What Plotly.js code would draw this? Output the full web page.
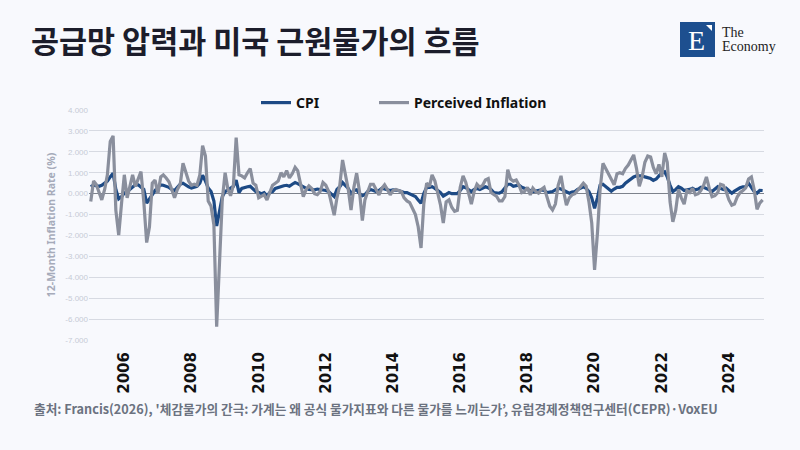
<!DOCTYPE html>
<html>
<head>
<meta charset="utf-8">
<script src="https://cdn.plot.ly/plotly-3.0.1.min.js"></script>
<style>
html,body{margin:0;padding:0;background:#f8f9fd;}
#chart{width:800px;height:450px;}
</style>
</head>
<body>
<div id="chart"></div>
<script>
// ---- data (monthly, starting Jan 2005) ----
const startYear = 2005;
const seriesNames = ['CPI', 'Perceived Inflation'];
const cpi = [
  0.33, 0.4, 0.38, 0.35, 0.4, 0.5, 0.6, 0.8, 0.98, 0.2, -0.25, -0.15,
  0.03, 0.1, 0.2, 0.35, 0.42, 0.42, 0.3, 0.2, -0.45, -0.25, 0.0, 0.15,
  0.3, 0.42, 0.4, 0.35, 0.3, 0.2, 0.15, 0.3, 0.45, 0.5, 0.4, 0.33,
  0.27, 0.3, 0.35, 0.5, 0.88, 0.6, 0.27, 0.1, -0.35, -1.55, -0.9, -0.15,
  0.1, 0.2, 0.27, 0.35, 0.65, 0.05, 0.25, 0.3, 0.33, 0.35, 0.2, 0.1,
  0.05, 0.0, 0.05, -0.1, 0.05, 0.1, 0.25, 0.3, 0.33, 0.38, 0.4, 0.35,
  0.45, 0.53, 0.48, 0.4, 0.3, 0.25, 0.2, 0.2, 0.18, 0.22, 0.2, 0.15,
  0.15, 0.1, 0.0, -0.14, 0.2, 0.33, 0.53, 0.4, 0.25, 0.0, 0.15, 0.18,
  0.0, -0.1, -0.05, 0.1, 0.2, 0.15, 0.1, 0.15, 0.26, 0.22, 0.18, 0.15,
  0.18, 0.18, 0.15, 0.1, 0.05, 0.05, 0.0, -0.05, -0.14, -0.3, -0.46, 0.0,
  0.3, 0.3, 0.33, 0.25, 0.15, 0.05, -0.12, -0.05, 0.05, 0.0, -0.02, 0.0,
  0.15, 0.33, 0.28, 0.2, 0.1, 0.2, 0.25, 0.2, 0.25, 0.33, 0.28, 0.2,
  0.05, 0.03, 0.02, 0.1, 0.26, 0.45, 0.45, 0.35, 0.38, 0.4, 0.3, 0.26,
  0.2, 0.15, 0.1, 0.12, 0.15, 0.18, 0.15, 0.05, 0.08, 0.1, 0.18, 0.26,
  0.22, 0.15, 0.05, 0.02, 0.08, 0.1, 0.2, 0.26, 0.33, 0.25, 0.1, -0.2,
  -0.7, -0.2, 0.4, 0.45, 0.35, 0.26, 0.12, 0.22, 0.3, 0.3, 0.35, 0.5,
  0.62, 0.72, 0.8, 0.85, 0.85, 0.85, 0.8, 0.75, 0.72, 0.63, 0.7, 0.85,
  1.0, 1.05, 0.8, 0.4, 0.1, 0.2, 0.33, 0.26, 0.15, 0.18, 0.2, 0.26,
  0.18, 0.22, 0.3, 0.3, 0.26, 0.18, 0.1, 0.22, 0.33, 0.25, 0.2, 0.26,
  0.12, 0.02, 0.12, 0.22, 0.28, 0.33, 0.33, 0.5, 0.3, 0.1, 0.02, 0.16,
  0.15
];
const perceived = [
  -0.38, 0.6, 0.45, 0.1, -0.3, 0.2, 0.9, 2.5, 2.76, -0.8, -1.98, -0.5,
  0.9, -0.2, 0.4, 0.9, 0.35, 0.7, 1.05, -0.4, -2.34, -1.6, 0.5, 0.65,
  0.0, 0.8, 0.9, 0.75, 0.57, 0.2, -0.2, 0.2, 0.45, 1.45, 1.0, 0.6,
  0.4, 0.45, 0.4, 0.9, 2.3, 1.8, -0.35, -0.6, -1.5, -6.36, -3.3, -0.3,
  1.0, 0.2, -0.1, 0.4, 2.68, 0.9, 0.85, 0.75, 1.0, 1.2, 0.5, 0.4,
  -0.2, -0.1, -0.05, -0.3, 0.1, 0.4, 0.5, 0.6, 1.0, 0.8, 1.1, 0.75,
  0.95, 1.26, 1.1, 0.5, -0.14, 0.2, 0.37, 0.25, 0.0, -0.05, 0.1, 0.53,
  0.4, 0.1, -0.5, -1.03, -0.2, 0.4, 1.61, 0.9, 0.2, -0.78, 0.3, 0.98,
  0.1, -1.29, -0.3, 0.1, 0.45, 0.45, 0.2, -0.06, 0.25, 0.42, 0.2, -0.06,
  0.15, 0.2, 0.15, 0.1, -0.2, -0.35, -0.43, -0.7, -1.0, -1.58, -2.6, -0.5,
  0.5, 0.35, 0.9, 0.6, 0.1, -0.55, -1.4, -0.4, -0.3, -0.65, -0.85, -0.8,
  0.3, 0.85, 0.55, 0.0, -0.5, 0.1, 0.45, 0.3, 0.4, 0.65, 0.72, 0.05,
  -0.05, -0.14, -0.35, -0.35, -0.14, 1.15, 0.7, 0.6, 0.65, 0.4, 0.05, 0.1,
  0.3, -0.06, 0.26, 0.1, 0.02, 0.2, 0.3, -0.1, -0.6, -0.78, -0.5, 0.4,
  0.85, 0.05, -0.55, -0.2, -0.06, 0.0, 0.15, 0.3, 0.5, 0.35, -0.4, -1.4,
  -3.65, -1.9, 0.2, 1.45, 1.2, 0.9, 0.7, 0.42, 0.95, 1.0, 0.95, 1.2,
  1.37, 1.65, 1.85, 1.2, 0.35, 0.8, 1.5, 1.8, 1.75, 1.25, 0.95, 1.4,
  0.8, 1.95, 1.5, -0.4, -1.35, -0.8, 0.2, -0.2, -0.5, 0.15, 0.05, 0.25,
  -0.05, 0.0, 0.15, 0.4, 0.8, 0.25, -0.15, -0.1, 0.05, 0.45, 0.4, 0.1,
  -0.3, -0.55, -0.5, -0.15, 0.05, 0.15, 0.28, 0.7, 0.8, 0.2, -0.75, -0.45,
  -0.3
];
const yTickVals = [4, 3, 2, 1, 0, -1, -2, -3, -4, -5, -6, -7];
const yTickText = yTickVals.map(v => v.toFixed(3));

const titleText = '공급망 압력과 미국 근원물가의 흐름';
const yTitleText = '12-Month Inflation Rate (%)';
const sourceText = "출처: Francis(2026), '체감물가의 간극: 가계는 왜 공식 물가지표와 다른 물가를 느끼는가’, 유럽경제정책연구센터(CEPR)·VoxEU";

// month dates
const dates = cpi.map((_, k) => {
  const y = startYear + Math.floor(k / 12);
  const m = (k % 12) + 1;
  return y + '-' + String(m).padStart(2, '0') + '-01';
});

// layout geometry helpers (pixel -> paper)
const L = 89, R = 36, T = 110, B = 110, W = 800, H = 450;
const pw = W - L - R, ph = H - T - B;
const px = x => (x - L) / pw;
const py = y => (H - B - y) / ph;

const traces = [
  {
    x: dates, y: cpi, name: seriesNames[0], type: 'scatter', mode: 'lines',
    line: {color: '#1d4a85', width: 3.2}, legend: 'legend'
  },
  {
    x: dates, y: perceived, name: seriesNames[1], type: 'scatter', mode: 'lines',
    line: {color: '#8a8f9d', width: 3.2}, legend: 'legend2'
  }
];

const legendStyle = {
  orientation: 'h',
  xanchor: 'left',
  y: py(103), yanchor: 'middle',
  font: {family: 'Noto Sans', size: 14, weight: 'bold', color: '#111111'},
  bgcolor: 'rgba(0,0,0,0)',
  itemwidth: 30
};

const layout = {
  width: W, height: H,
  margin: {l: L, r: R, t: T, b: B},
  paper_bgcolor: '#f8f9fd',
  plot_bgcolor: '#f8f9fd',
  font: {family: 'Noto Sans, Noto Sans CJK KR, sans-serif'},
  title: {
    text: titleText,
    font: {family: 'Noto Sans CJK KR', size: 30.5, weight: 'bold', color: '#1c1d2b'},
    xref: 'container', yref: 'container',
    x: 31 / W, xanchor: 'left',
    y: 1 - 42 / H, yanchor: 'middle'
  },
  showlegend: true,
  legend: Object.assign({}, legendStyle, {x: px(256)}),
  legend2: Object.assign({}, legendStyle, {x: px(374)}),
  xaxis: {
    type: 'date',
    range: ['2004-12-13', '2025-01-16'],
    tick0: '2006-01-01', dtick: 'M24', tickformat: '%Y',
    tickangle: -90,
    tickfont: {family: 'DejaVu Sans', size: 15, weight: 'bold', color: '#111111'},
    showgrid: false, zeroline: false, showline: false, ticks: '',
    ticklabelstandoff: 8
  },
  yaxis: {
    range: [-7, 4],
    tickvals: yTickVals, ticktext: yTickText,
    tickfont: {family: 'Liberation Sans', size: 8, color: '#c6cbd6'},
    gridcolor: '#d7dae2', gridwidth: 1,
    zeroline: true, zerolinecolor: '#7d828c', zerolinewidth: 1.2,
    showline: false, ticks: '',
    title: {
      text: yTitleText,
      font: {family: 'Noto Sans', size: 10.5, weight: 'bold', color: '#a6abba'},
      standoff: 7
    }
  },
  shapes: [
    {type: 'rect', xref: 'paper', yref: 'paper',
     x0: px(680), x1: px(715), y0: py(57), y1: py(22),
     fillcolor: '#1d4f8f', line: {width: 0}},
    {type: 'path', xref: 'paper', yref: 'paper',
     path: 'M' + px(706) + ',' + py(25) + ' L' + px(712) + ',' + py(25) + ' L' + px(712) + ',' + py(31) + ' Z',
     fillcolor: '#ffffff', line: {width: 0}}
  ],
  annotations: [
    {text: 'E', xref: 'paper', yref: 'paper', x: px(696), y: py(41),
     xanchor: 'center', yanchor: 'middle', showarrow: false,
     font: {family: 'Liberation Serif', size: 28, color: '#ffffff'}},
    {text: 'The', xref: 'paper', yref: 'paper', x: px(720), y: py(33),
     xanchor: 'left', yanchor: 'middle', showarrow: false,
     font: {family: 'Liberation Serif', size: 14, color: '#222222'}},
    {text: 'Economy', xref: 'paper', yref: 'paper', x: px(720), y: py(46),
     xanchor: 'left', yanchor: 'middle', showarrow: false,
     font: {family: 'Liberation Serif', size: 14, color: '#222222'}},
    {text: sourceText, xref: 'paper', yref: 'paper', x: px(32), y: py(408),
     xanchor: 'left', yanchor: 'middle', showarrow: false,
     font: {family: 'Noto Sans CJK KR', size: 12.7, weight: 'bold', color: '#6b7280'}}
  ]
};

Plotly.newPlot('chart', traces, layout, {displayModeBar: false, staticPlot: true});
</script>
</body>
</html>
